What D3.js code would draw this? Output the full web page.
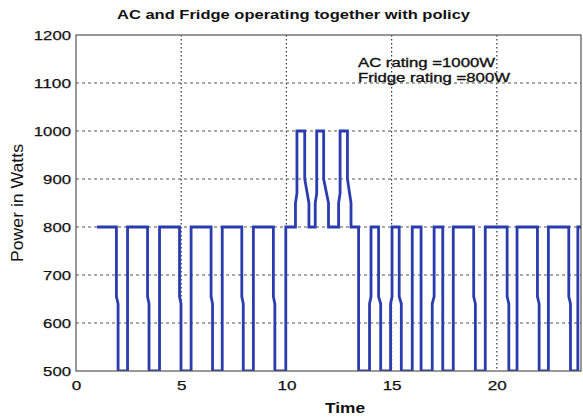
<!DOCTYPE html>
<html><head><meta charset="utf-8">
<script src="https://cdn.jsdelivr.net/npm/d3@7"></script>
<style>body{margin:0;background:#fff}svg{display:block}text{font-family:"Liberation Sans",Arial,sans-serif;fill:#111}</style>
</head><body><svg id="c" width="583" height="419"></svg>
<script>
const title = "AC and Fridge operating together with policy";
const xLabel = "Time";
const yLabel = "Power in Watts";
const notes = ["AC rating =1000W", "Fridge rating =800W"];
const xTicks = [0, 5, 10, 15, 20];
const yTicks = [500, 600, 700, 800, 900, 1000, 1100, 1200];
// step-trace vertices (hours, watts)
const time = [1,1.92,1.92,2.0,2.0,2.45,2.45,3.4,3.4,3.47,3.47,3.97,3.97,4.92,4.92,4.99,4.99,5.47,5.47,6.42,6.42,6.49,6.49,6.95,6.95,7.88,7.88,7.95,7.95,8.43,8.43,9.38,9.38,9.45,9.45,9.97,9.97,
10.43,10.43,10.5,10.5,10.87,10.87,11.07,11.07,11.37,11.37,11.44,11.44,11.77,11.77,12.0,12.0,12.48,12.48,12.55,12.55,12.9,12.9,13.07,13.07,13.43,13.43,
13.95,13.95,14.02,14.02,14.38,14.38,14.48,14.48,14.95,14.95,15.02,15.02,15.36,15.36,15.46,15.46,15.98,15.98,16.4,16.4,16.93,16.93,17.02,17.02,17.43,17.43,
17.93,17.93,18.9,18.9,18.98,18.98,19.45,19.45,20.49,20.49,20.57,20.57,20.96,20.96,21.93,21.93,22.01,22.01,22.45,22.45,23.42,23.42,23.5,23.5,23.85,23.85,24];
const power = [800,800,655,640,500,500,800,800,655,640,500,500,800,800,655,640,500,500,800,800,655,640,500,500,800,800,655,640,500,500,800,800,655,640,500,500,800,
800,850,870,1000,1000,900,850,800,800,850,870,1000,1000,900,850,800,800,850,870,1000,1000,900,850,800,800,500,
500,640,655,800,800,655,640,500,500,640,655,800,800,655,640,500,500,800,800,500,500,640,655,800,800,500,
500,800,800,655,640,500,500,800,800,655,640,500,500,800,800,655,640,500,500,800,800,655,640,500,500,800,800];

const L = 76, T = 35, R = 581, B = 371;
const svg = d3.select("#c");
const x = d3.scaleLinear().domain([0, 24]).range([L, R]);
const y = d3.scaleLinear().domain([500, 1200]).range([B, T]);

// grid
svg.append("g").selectAll("line").data(xTicks.filter(d => d > 0)).join("line")
  .attr("x1", d => x(d)).attr("x2", d => x(d)).attr("y1", T).attr("y2", B)
  .attr("stroke", "#333").attr("stroke-width", 1.2).attr("stroke-dasharray", "1.5,2.5");
svg.append("g").selectAll("line").data(yTicks.filter(d => d > 500 && d < 1200)).join("line")
  .attr("x1", L).attr("x2", R).attr("y1", d => y(d)).attr("y2", d => y(d))
  .attr("stroke", "#555").attr("stroke-width", 1.2).attr("stroke-dasharray", "3,3");

// trace
const pts = time.map((t, i) => [t, power[i]]);
svg.append("defs").append("clipPath").attr("id", "pa").append("rect")
  .attr("x", L).attr("y", T).attr("width", R - L).attr("height", B - T);
svg.append("path").datum(pts).attr("clip-path", "url(#pa)")
  .attr("d", d3.line().x(d => x(d[0])).y(d => y(d[1])))
  .attr("fill", "none").attr("stroke", "#2b3cae").attr("stroke-width", 2.8).attr("stroke-linejoin", "miter");

// box
svg.append("rect").attr("x", L).attr("y", T).attr("width", R - L).attr("height", B - T)
  .attr("fill", "none").attr("stroke", "#555").attr("stroke-width", 1.2);

// axes labels via d3 axes (no domain / tick lines)
const xa = svg.append("g").attr("transform", `translate(0,${B})`)
  .call(d3.axisBottom(x).tickValues(xTicks).tickSize(0).tickPadding(0).tickFormat(d3.format("d")));
xa.select(".domain").remove();
xa.selectAll("text").attr("font-size", 13).attr("dy", null).attr("y", 19)
  .attr("font-family", "Liberation Sans").attr("fill", "#111").attr("stroke", "#111").attr("stroke-width", 0.25)
  .each(function(d){ const n = String(d).length; d3.select(this).attr("textLength", n * 9.5).attr("lengthAdjust", "spacingAndGlyphs"); });

const ya = svg.append("g").attr("transform", `translate(${L},0)`)
  .call(d3.axisLeft(y).tickValues(yTicks).tickSize(0).tickPadding(5).tickFormat(d3.format("d")));
ya.select(".domain").remove();
ya.selectAll("text").attr("font-size", 13).attr("dy", "0.36em").attr("font-family", "Liberation Sans").attr("fill", "#111")
  .attr("stroke", "#111").attr("stroke-width", 0.25)
  .each(function(d){ const n = String(d).length; d3.select(this).attr("textLength", n * 9.3).attr("lengthAdjust", "spacingAndGlyphs"); });

// title & labels
svg.append("text").attr("x", 293.5).attr("y", 19).attr("text-anchor", "middle")
  .attr("font-size", 12.5).attr("font-weight", "bold").attr("textLength", 353).attr("lengthAdjust", "spacingAndGlyphs").text(title);
svg.append("text").attr("x", 345).attr("y", 413).attr("text-anchor", "middle")
  .attr("font-size", 14).attr("font-weight", "bold").attr("textLength", 40).attr("lengthAdjust", "spacingAndGlyphs").text(xLabel);
svg.append("text").attr("transform", "translate(23,203) rotate(-90)").attr("text-anchor", "middle")
  .attr("font-size", 16).attr("textLength", 118).attr("lengthAdjust", "spacingAndGlyphs").text(yLabel);
svg.append("g").selectAll("text").data(notes).join("text")
  .attr("x", 358).attr("y", (d, i) => 67 + i * 15)
  .attr("font-size", 12.5).attr("stroke", "#111").attr("stroke-width", 0.35)
  .attr("textLength", (d, i) => [137, 152][i]).attr("lengthAdjust", "spacingAndGlyphs").text(d => d);
</script></body></html>
